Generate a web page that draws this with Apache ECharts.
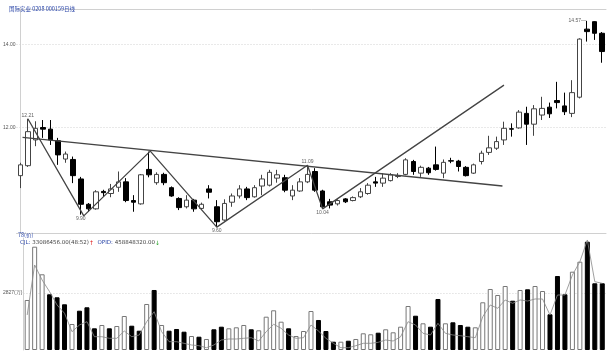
<!DOCTYPE html>
<html>
<head>
<meta charset="utf-8">
<script src="https://cdn.jsdelivr.net/npm/echarts@6/dist/echarts.min.js"></script>
<style>
  html, body { margin: 0; padding: 0; background: #fff; }
  #chart { width: 609px; height: 353px; }
</style>
</head>
<body>
<div id="chart"></div>
<script>
/* daily bars: [open, close, low, high] */
const ohlc = [
	[10.84, 11.10, 10.54, 11.15], [11.08, 11.90, 11.05, 12.21], [11.70, 11.98, 11.55, 12.15], [12.00, 11.96, 11.75, 12.18],
	[11.96, 11.70, 11.58, 12.18], [11.68, 11.34, 11.10, 11.75], [11.24, 11.36, 11.15, 11.42], [11.23, 10.84, 10.66, 11.30],
	[10.76, 10.15, 9.90, 10.81], [10.15, 10.04, 9.97, 10.18], [10.04, 10.45, 10.02, 10.49], [10.46, 10.43, 10.33, 10.50],
	[10.41, 10.52, 10.32, 10.64], [10.56, 10.69, 10.45, 10.94], [10.69, 10.24, 10.20, 10.78], [10.24, 10.20, 9.97, 10.37],
	[10.16, 10.86, 10.14, 10.88], [10.99, 10.86, 10.80, 11.42], [10.67, 10.87, 10.62, 10.92], [10.87, 10.67, 10.61, 10.91],
	[10.55, 10.35, 10.33, 10.58], [10.29, 10.07, 10.01, 10.32], [10.09, 10.25, 10.05, 10.37], [10.25, 10.04, 9.97, 10.28],
	[10.05, 10.15, 10.01, 10.19], [10.52, 10.44, 10.29, 10.61], [10.09, 9.73, 9.60, 10.25], [9.77, 10.17, 9.75, 10.27],
	[10.20, 10.35, 10.09, 10.41], [10.35, 10.52, 10.29, 10.61], [10.52, 10.31, 10.25, 10.57], [10.33, 10.55, 10.31, 10.61],
	[10.59, 10.76, 10.37, 10.86], [10.61, 10.92, 10.58, 10.98], [10.78, 10.86, 10.67, 10.98], [10.79, 10.49, 10.44, 10.86],
	[10.35, 10.49, 10.25, 10.61], [10.47, 10.69, 10.45, 10.78], [10.69, 10.87, 10.66, 11.09], [10.94, 10.49, 10.45, 11.02],
	[10.47, 10.09, 10.04, 10.50], [10.21, 10.13, 10.05, 10.28], [10.16, 10.24, 10.12, 10.27], [10.28, 10.21, 10.18, 10.30],
	[10.24, 10.31, 10.22, 10.34], [10.33, 10.45, 10.30, 10.54], [10.41, 10.61, 10.38, 10.66], [10.69, 10.66, 10.57, 10.81],
	[10.66, 10.78, 10.57, 10.90], [10.72, 10.86, 10.70, 10.90], [10.82, 10.84, 10.78, 10.90], [10.87, 11.22, 10.85, 11.26],
	[11.18, 10.94, 10.86, 11.22], [10.90, 11.04, 10.81, 11.08], [11.02, 10.91, 10.86, 11.05], [11.10, 10.99, 10.96, 11.54],
	[10.90, 11.16, 10.78, 11.23], [11.20, 11.19, 11.14, 11.27], [11.19, 11.06, 10.94, 11.22], [11.04, 10.84, 10.82, 11.07],
	[10.90, 11.10, 10.88, 11.13], [11.18, 11.38, 11.11, 11.44], [11.40, 11.51, 11.34, 11.80], [11.50, 11.66, 11.46, 11.78],
	[11.70, 11.98, 11.58, 12.14], [11.97, 11.96, 11.78, 12.10], [11.99, 12.37, 11.97, 12.42], [12.34, 12.08, 11.58, 12.50],
	[12.08, 12.45, 11.80, 12.54], [12.30, 12.46, 12.18, 12.74], [12.49, 12.33, 12.23, 12.60], [12.65, 12.60, 12.46, 13.10],
	[12.52, 12.38, 12.30, 12.84], [12.34, 12.84, 12.25, 13.14], [12.73, 14.13, 12.70, 14.15], [14.37, 14.31, 14.07, 14.57],
	[14.55, 14.27, 14.11, 14.56], [14.27, 13.83, 13.56, 14.30]
];

/* volume, 万股 */
const volume = [
	2480, 5124, 3755, 2763, 2614, 2267, 1290, 1949, 2118, 1076, 1240, 1076, 1190, 1686, 1205, 957,
	2282, 2976, 1240, 957, 1042, 908, 694, 660, 546, 1027, 1156, 1076, 1126, 1240, 1027, 977,
	1652, 1969, 1404, 1076, 694, 942, 1934, 1488, 942, 412, 412, 461, 546, 828, 779, 858,
	1027, 878, 1156, 2182, 1701, 1324, 1156, 2530, 1324, 1374, 1240, 1156, 1126, 2366, 3026, 2728,
	3174, 2445, 2976, 3011, 3174, 2926, 1771, 3670, 2763, 3884, 4380, 5372, 3308, 3309
];

/* thin line in the volume pane, 万股 */
const volumeLine = [
	1736, 4216, 3472, 2892, 2232, 1820, 908, 1240, 1404, 660, 660, 580, 580, 942, 660, 744,
	1404, 1900, 908, 412, 412, 332, 248, 213, 114, 248, 496, 546, 546, 580, 610, 446,
	908, 1275, 1076, 744, 580, 610, 1240, 942, 580, 332, 114, 114, 213, 332, 332, 382,
	496, 446, 660, 1404, 1240, 828, 744, 1324, 828, 744, 709, 660, 610, 1652, 2232, 2068,
	2480, 2316, 2480, 2430, 2530, 2530, 1736, 2728, 2728, 3720, 4380, 5456, 3388, 3308
];

/* drawn pattern lines: [bar position, price] */
const zigzag = [[1, 12.21], [8.4, 9.87], [17.2, 11.43], [26, 9.60], [38, 11.09], [40, 10.04], [64, 13.02]];
const neckline = [[0.3, 11.76], [63.8, 10.59]];

/* marked highs and lows: [bar, price, label side] */
const extremes = [[1, 12.21, 'top'], [8, 9.90, 'bottom'], [26, 9.60, 'bottom'], [38, 11.09, 'top'], [40, 10.04, 'bottom']];
const topMark = [[75, 14.57]];

const priceTicks = [12, 14];
const volumeTicks = [2827];

const titleText = '国际实业 0208 000159日线';
const volTitle = '78(价)';
const cjl = '33086456.00(48:52)';
const opid = '458848320.00';

const bars = ohlc.map((_, i) => String(i));
const gridColor = '#d0d0d0';

const volumeData = volume.map((v, i) => {
	const up = ohlc[i][1] >= ohlc[i][0];
	return {
		value: v,
		itemStyle: up
			? { color: '#fff', borderColor: '#777', borderWidth: 1 }
			: { color: '#000', borderColor: '#000', borderWidth: 1 },
	};
});

const option = {
	animation: false,
	backgroundColor: '#fff',
	title: [
		{
			text: titleText, left: 4, top: 1,
			textStyle: { fontSize: 5.5, color: '#2b46a8', fontWeight: 'normal', fontFamily: 'Noto Sans CJK SC' },
		},
		{
			text: volTitle, left: 13, top: 227,
			textStyle: { fontSize: 5.5, color: '#2b46a8', fontWeight: 'normal', fontFamily: 'Noto Sans CJK SC' },
		},
		{
			text: '{k|CJL:} {v|' + cjl + '}{u|↑}  {k|OPID:} {v|' + opid + '}{d|↓}',
			left: 15, top: 235,
			textStyle: {
				fontSize: 5.5, fontWeight: 'normal', fontFamily: 'DejaVu Sans',
				rich: {
					k: { fontSize: 5.5, color: '#2b46a8', fontFamily: 'DejaVu Sans' },
					v: { fontSize: 5.5, color: '#444', fontFamily: 'DejaVu Sans' },
					u: { fontSize: 6, color: '#e02020', fontFamily: 'DejaVu Sans' },
					d: { fontSize: 6, color: '#20a020', fontFamily: 'DejaVu Sans' },
				},
			},
		},
	],
	grid: [
		{ left: 12, right: 3, top: 9, bottom: 120 },
		{ left: 12, right: 3, top: 238, bottom: 3 },
	],
	xAxis: [
		{
			type: 'category', gridIndex: 0, data: bars, position: 'top',
			axisLine: { lineStyle: { color: gridColor } },
			axisTick: { show: false }, axisLabel: { show: false }, splitLine: { show: false },
		},
		{
			type: 'value', gridIndex: 0, min: -0.5, max: 77.5, position: 'bottom',
			axisLine: { show: true, onZero: false, lineStyle: { color: gridColor } },
			axisTick: { show: false }, axisLabel: { show: false }, splitLine: { show: false },
		},
		{
			type: 'category', gridIndex: 1, data: bars,
			axisLine: { show: false }, axisTick: { show: false }, axisLabel: { show: false },
		},
	],
	yAxis: [
		{
			type: 'value', gridIndex: 0, min: 9.458, max: 14.855,
			axisLine: { show: true, lineStyle: { color: gridColor } },
			axisTick: { show: false, customValues: priceTicks },
			axisLabel: {
				customValues: priceTicks, fontSize: 5, color: '#555', margin: 1,
				formatter: (v) => v.toFixed(2),
			},
			splitLine: { show: true, lineStyle: { color: '#c8c8c8', type: [1, 2], width: 0.8 } },
		},
		{
			type: 'value', gridIndex: 1, min: 0, max: 5555,
			axisLine: { show: true, lineStyle: { color: gridColor } },
			axisTick: { show: false, customValues: volumeTicks },
			axisLabel: {
				customValues: volumeTicks, fontSize: 5, color: '#555', margin: 1,
				formatter: (v) => v + '(万)',
			},
			splitLine: { show: true, lineStyle: { color: '#c8c8c8', type: [1, 2], width: 0.8 } },
		},
	],
	series: [
		{
			type: 'candlestick', xAxisIndex: 0, yAxisIndex: 0,
			data: ohlc, barWidth: 5,
			itemStyle: { color: '#fff', color0: '#000', borderColor: '#444', borderColor0: '#000', borderWidth: 1 },
		},
		{
			type: 'line', xAxisIndex: 1, yAxisIndex: 0, data: zigzag,
			symbol: 'none', lineStyle: { color: '#444', width: 1.3 }, z: 5,
		},
		{
			type: 'line', xAxisIndex: 1, yAxisIndex: 0, data: neckline,
			symbol: 'none', lineStyle: { color: '#444', width: 1.3 }, z: 5,
		},
		{
			type: 'scatter', xAxisIndex: 1, yAxisIndex: 0,
			data: extremes.map((p) => ({
				value: [p[0], p[1]],
				label: { show: true, position: p[2], distance: 1 },
			})),
			symbolSize: 0,
			label: { fontSize: 5, color: '#333', formatter: (p) => p.value[1].toFixed(2) },
			z: 6,
		},
		{
			type: 'scatter', xAxisIndex: 1, yAxisIndex: 0,
			data: topMark,
			symbolSize: 0,
			label: {
				show: true, position: 'left', distance: 1, fontSize: 5, color: '#333',
				formatter: (p) => p.value[1].toFixed(2) + '—',
			},
			z: 6,
		},
		{
			type: 'bar', xAxisIndex: 2, yAxisIndex: 1,
			data: volumeData, barWidth: 5,
		},
		{
			type: 'line', xAxisIndex: 2, yAxisIndex: 1, data: volumeLine,
			symbol: 'none', lineStyle: { color: '#888', width: 0.8 }, z: 5,
		},
	],
};

const chart = echarts.init(document.getElementById('chart'), null, { renderer: 'canvas' });
chart.setOption(option);
</script>
</body>
</html>
